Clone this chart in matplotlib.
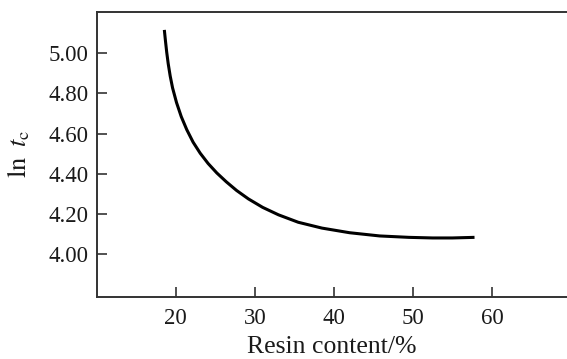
import numpy as np
import matplotlib.pyplot as plt

# resin content (%) and ln(tc)
resin = [18.56, 18.7, 18.86, 19.05, 19.3, 19.6, 20.1, 20.7, 21.4, 22.2, 23.1,
         24.1, 25.2, 26.4, 27.7, 29.2, 31.0, 33.0, 35.5, 38.5, 42.0, 45.8,
         49.5, 52.5, 55.0, 57.8]
ln_tc = [5.116, 5.062, 5.005, 4.948, 4.887, 4.828, 4.755, 4.685, 4.620, 4.558,
         4.503, 4.452, 4.405, 4.361, 4.318, 4.276, 4.234, 4.197, 4.160, 4.131,
         4.108, 4.092, 4.085, 4.082, 4.082, 4.085]

xticks = [20, 30, 40, 50, 60]
yticks = [4.00, 4.20, 4.40, 4.60, 4.80, 5.00]

plt.rcParams['font.family'] = ['Liberation Serif', 'DejaVu Serif']
plt.rcParams['mathtext.fontset'] = 'stix'

fig = plt.figure(figsize=(5.67, 3.59), dpi=100)
ax = fig.add_axes([0.1705, 0.1735, 1 - 0.1705, 0.9666 - 0.1735])

ax.plot(resin, ln_tc, color='black', lw=2.2, solid_capstyle='butt',
        solid_joinstyle='round')

ax.set_xlim(10, 69.5)
ax.set_ylim(3.79, 5.205)
ax.set_xticks(xticks)
ax.set_yticks(yticks)
ax.set_yticklabels(['%.2f' % v for v in yticks])

for s in ['left', 'bottom', 'top']:
    ax.spines[s].set_linewidth(1.4)
    ax.spines[s].set_color('#333333')
ax.spines['right'].set_visible(False)

ax.tick_params(direction='in', length=7, width=1.2, color='#333333',
               labelsize=16.5, labelcolor='#1a1a1a')
ax.tick_params(axis='y', pad=6)
ax.tick_params(axis='x', pad=8)

ax.set_xlabel('Resin content/%', fontsize=18.5, color='#1a1a1a', labelpad=5)
ax.set_ylabel(r'$\mathrm{ln}\;\;t_\mathrm{c}$', fontsize=19, color='#1a1a1a', labelpad=12)

fig.savefig('out.png', dpi=100)
